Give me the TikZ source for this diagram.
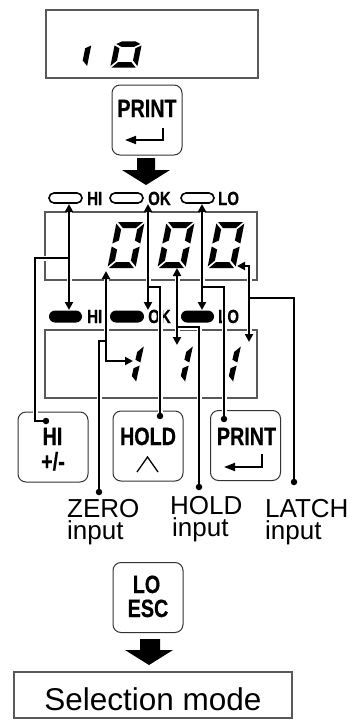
\documentclass[tikz,border=0pt]{standalone}
\usepackage{fontspec}
\setmainfont{Liberation Sans}
\newfontfamily\condf[FakeStretch=0.79,FakeBold=0.5]{Liberation Sans}
\usetikzlibrary{arrows.meta,shapes.misc}

% seven-segment helpers
\newcommand\sgdef[4]{\def\dw{#1}\def\dh{#2}\def\dt{#3}\def\dg{#4}}
\newcommand\sgA{\fill (-\dw+\dg,-\dh) -- (\dw-\dg,-\dh) -- (\dw-\dg-\dt,-\dh+\dt) -- (-\dw+\dg+\dt,-\dh+\dt) -- cycle;}
\newcommand\sgD{\fill (-\dw+\dg,\dh) -- (\dw-\dg,\dh) -- (\dw-\dg-\dt,\dh-\dt) -- (-\dw+\dg+\dt,\dh-\dt) -- cycle;}
\newcommand\sgG{\fill (-\dw+\dg,0) -- (-\dw+\dg+\dt,-\dt/2) -- (\dw-\dg-\dt,-\dt/2) -- (\dw-\dg,0) -- (\dw-\dg-\dt,\dt/2) -- (-\dw+\dg+\dt,\dt/2) -- cycle;}
\newcommand\sgF{\fill (-\dw,-\dh+\dg) -- (-\dw+\dt,-\dh+\dg+\dt) -- (-\dw+\dt,-\dg-\dt/2) -- (-\dw,-\dg) -- cycle;}
\newcommand\sgB{\fill (\dw,-\dh+\dg) -- (\dw-\dt,-\dh+\dg+\dt) -- (\dw-\dt,-\dg-\dt/2) -- (\dw,-\dg) -- cycle;}
\newcommand\sgE{\fill (-\dw,\dg) -- (-\dw+\dt,\dg+\dt/2) -- (-\dw+\dt,\dh-\dg-\dt) -- (-\dw,\dh-\dg) -- cycle;}
\newcommand\sgC{\fill (\dw,\dg) -- (\dw-\dt,\dg+\dt/2) -- (\dw-\dt,\dh-\dg-\dt) -- (\dw,\dh-\dg) -- cycle;}

\tikzset{
  panel/.style={draw=black!65, line width=1.2pt, rectangle, inner sep=0pt, minimum width=212pt, minimum height=68pt},
  btn/.style={draw=black!80, line width=1pt, rectangle, rounded corners=8pt, minimum width=70pt, minimum height=70pt, inner sep=0pt},
  btntext/.style={font=\condf\bfseries\fontsize{25}{25}\selectfont, anchor=base, inner sep=0pt},
  indtext/.style={font=\condf\bfseries\fontsize{19}{19}\selectfont, anchor=base west, inner sep=0pt},
  lbl/.style={font=\fontsize{26}{22}\selectfont, anchor=base west, align=left, inner sep=0pt},
  pillo/.style={draw, rounded rectangle, line width=1.6pt, minimum width=33pt, minimum height=10pt, inner sep=0pt},
  pillf/.style={fill, rounded rectangle, minimum width=33pt, minimum height=12pt, inner sep=0pt},
  conn/.style={line width=2pt, preaction={draw=white, line width=5pt, -, shorten <=3pt, shorten >=3pt}},
  toarrow/.style={-{Triangle[length=8pt,width=8pt]}},
  bothways/.style={{Triangle[length=8pt,width=8pt]}-{Triangle[length=8pt,width=8pt]}},
  enterarrow/.style={line width=1.8pt, -{Triangle[length=11pt,width=8pt]}},
  jdot/.style={circle, fill, inner sep=0pt, minimum size=6.5pt},
  blockarrow/.style={fill=black},
}

\begin{document}
\begin{tikzpicture}[x=1pt, y=-1pt]
\useasboundingbox (0,0) rectangle (364,720);

% ---------- panels ----------
\node[panel] (topPanel) at (152,44) {};
\node[panel] (midPanel) at (151,246) {};
\node[panel] (botPanel) at (151,364) {};
\node[panel, minimum width=278pt, minimum height=46pt] (selBox) at (153,695) {};
\node[font=\fontsize{31.5}{32}\selectfont, anchor=base, inner sep=0pt] (selText) at (153,710) {Selection mode};

% ---------- top display digits ----------
\begin{scope}[shift={(78,44)}, xslant=0.2]
  \sgdef{13.5}{23.5}{5.5}{1.5}\sgC
\end{scope}
\begin{scope}[shift={(128.3,44)}, xslant=0.2]
  \sgdef{13.5}{23.5}{5.5}{1.5}\sgG\sgC\sgD\sgE
\end{scope}

% ---------- buttons ----------
\node[btn] (bPrintA) at (147,120) {};
\node[btntext] (tPrintA) at (147,117) {PRINT};
\draw[enterarrow] (163,128) -- (163,140) -- (125,140);

\node[btn] (bHi) at (53,447) {};
\node[btntext] (tHi) at (52.5,445) {HI};
\node[btntext] (tPm) at (53,470) {+/-};

\node[btn] (bHold) at (148,446) {};
\node[btntext] (tHold) at (148,445) {HOLD};
\draw[line width=1.3pt] (137,472) -- (147.5,457) -- (158,472);

\node[btn] (bPrint) at (245.5,445.5) {};
\node[btntext] (tPrint) at (246.5,445) {PRINT};
\draw[enterarrow] (262,454) -- (262,467) -- (224,467);

\node[btn] (bLoEsc) at (148,597.5) {};
\node[btntext] (tLo) at (146.5,593) {LO};
\node[btntext] (tEsc) at (148,617) {ESC};

% ---------- block arrows ----------
\fill[blockarrow] (137,158) -- (155,158) -- (155,170) -- (170,170) -- (146,185) -- (122,170) -- (137,170) -- cycle;
\fill[blockarrow] (140,639) -- (160,639) -- (160,650) -- (173,650) -- (149,665) -- (125,650) -- (140,650) -- cycle;

% ---------- indicator labels ----------
\node[indtext] (lHIo) at (87,205) {HI};
\node[indtext] (lOKo) at (148,205) {OK};
\node[indtext] (lLOo) at (218,205) {LO};
\node[indtext] (lHIf) at (87,323) {HI};
\node[indtext] (lOKf) at (148,323) {OK};
\node[indtext] (lLOf) at (218,323) {LO};

% ---------- bottom labels (base = last line) ----------
\node[lbl] (lZero) at (67,539) {ZERO\\input};
\node[lbl] (lHold) at (170,536) {HOLD\\\hspace*{2pt}input};
\node[lbl] (lLatch) at (265,539) {LATCH\\input};

% ---------- connector coordinates ----------
\coordinate (jHI) at (69,258);
\coordinate (kHI) at (35,421);
\coordinate (jOK) at (148,287);
\coordinate (jLO) at (202,287);
\coordinate (aHIo) at (69,204);
\coordinate (aHIf) at (69,310);
\coordinate (aOKo) at (148,204);
\coordinate (aOKf) at (148,310);
\coordinate (aLOo) at (202,204);
\coordinate (aLOf) at (202,310);

\coordinate (jZero) at (106,341);
\coordinate (tZeroM) at (106,271);
\coordinate (tZeroB) at (133,361);
\coordinate (jHold) at (177,327);
\coordinate (tHoldM) at (177,268);
\coordinate (tHoldB) at (177,345);
\coordinate (jLatch) at (249,298);
\coordinate (tLatchM) at (237,266);
\coordinate (tLatchB) at (249,342);

\node[jdot] (dHI) at (46,421) {};
\node[jdot] (dHold) at (160,416) {};
\node[jdot] (dPrint) at (224,419) {};
\node[jdot] (dZero) at (99,492) {};
\node[jdot] (dHoldIn) at (199,487) {};
\node[jdot] (dLatch) at (294,482) {};

% ---------- connectors ----------
\draw[conn,bothways] (aHIo) -- (aHIf);
\draw[conn] (jHI) -| (kHI) -- (dHI.center);
\draw[conn,bothways] (aOKo) -- (aOKf);
\draw[conn] (jOK) -| (dHold.center);
\draw[conn,bothways] (aLOo) -- (aLOf);
\draw[conn] (jLO) -| (dPrint.center);

\draw[conn,toarrow] (dZero.center) |- (jZero) -- (tZeroM);
\draw[conn,toarrow] (jZero) |- (tZeroB);

\draw[conn,bothways] (tHoldM) -- (tHoldB);
\draw[conn] (dHoldIn.center) |- (jHold);

\draw[conn] (dLatch.center) |- (jLatch);
\draw[conn,toarrow] (jLatch) |- (tLatchM);
\draw[conn,toarrow] (jLatch) -- (tLatchB);

% ---------- indicator pills ----------
\node[pillo] (pHIo) at (65.5,198) {};
\node[pillo] (pOKo) at (126.5,198) {};
\node[pillo] (pLOo) at (197.5,198) {};
\node[pillf] (pHIf) at (65.5,316.5) {};
\node[pillf, minimum width=34pt] (pOKf) at (127,316.5) {};
\node[pillf] (pLOf) at (197.5,316.5) {};

% ---------- middle display digits (000) ----------
\foreach \cx in {126,176,226}{
  \begin{scope}[shift={(\cx,245)}, xslant=0.2]
    \sgdef{14}{23}{6}{1.5}\sgA\sgB\sgC\sgD\sgE\sgF
  \end{scope}
}
% ---------- bottom display digits (111) ----------
\foreach \cx in {126,175,223}{
  \begin{scope}[shift={(\cx,364)}, xslant=0.22]
    \sgdef{14}{19}{5.5}{1.5}\sgB\sgC
  \end{scope}
}
\end{tikzpicture}
\end{document}
